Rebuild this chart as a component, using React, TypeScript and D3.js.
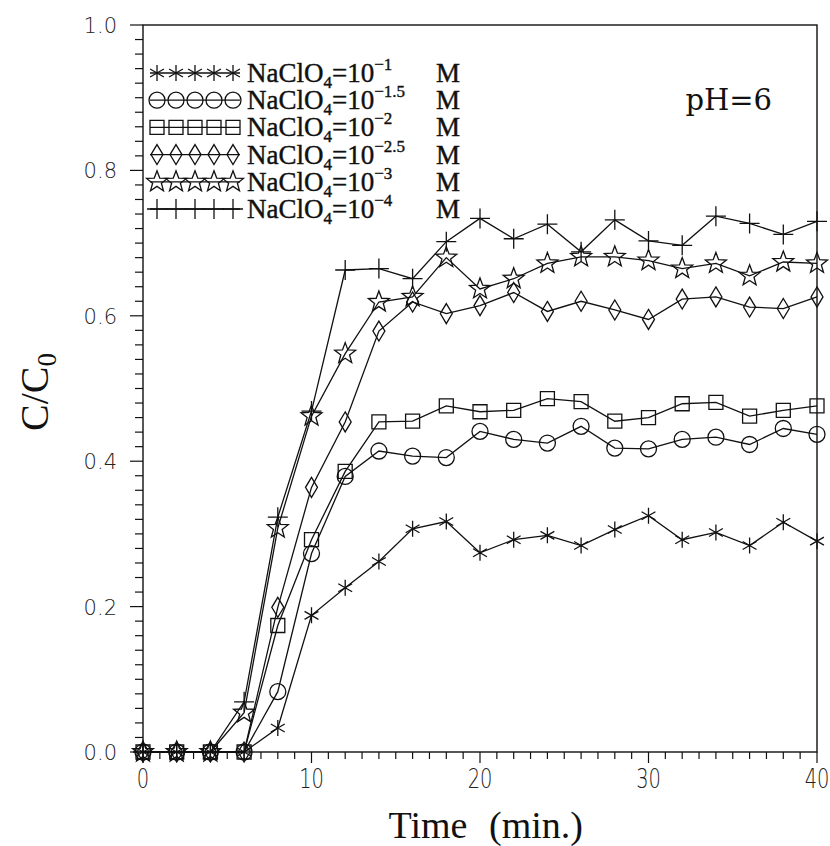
import React from 'react';
import * as d3 from 'd3';

const time = [0, 2, 4, 6, 8, 10, 12, 14, 16, 18, 20, 22, 24, 26, 28, 30, 32, 34, 36, 38, 40];

const nacl1 = [0, 0, 0, 0, 0.033, 0.188, 0.226, 0.262, 0.307, 0.317, 0.274, 0.292, 0.298, 0.284, 0.306, 0.325, 0.292, 0.302, 0.284, 0.316, 0.29];
const nacl15 = [0, 0, 0, 0, 0.083, 0.273, 0.379, 0.414, 0.407, 0.405, 0.441, 0.43, 0.425, 0.448, 0.418, 0.417, 0.43, 0.433, 0.423, 0.445, 0.437];
const nacl2 = [0, 0, 0, 0, 0.174, 0.292, 0.386, 0.454, 0.455, 0.476, 0.468, 0.47, 0.486, 0.482, 0.455, 0.46, 0.479, 0.481, 0.462, 0.47, 0.476];
const nacl25 = [0, 0, 0, 0, 0.199, 0.364, 0.454, 0.579, 0.619, 0.603, 0.614, 0.632, 0.606, 0.62, 0.608, 0.595, 0.623, 0.626, 0.612, 0.61, 0.626];
const nacl3 = [0, 0, 0, 0.054, 0.308, 0.462, 0.548, 0.619, 0.626, 0.68, 0.637, 0.651, 0.672, 0.681, 0.681, 0.676, 0.665, 0.672, 0.655, 0.674, 0.672];
const nacl4 = [0, 0, 0, 0.069, 0.323, 0.469, 0.663, 0.665, 0.651, 0.702, 0.734, 0.706, 0.726, 0.688, 0.732, 0.703, 0.697, 0.737, 0.727, 0.712, 0.73];

const exponents = ['\u22121', '\u22121.5', '\u22122', '\u22122.5', '\u22123', '\u22124'];
const markers = ['asterisk', 'circle', 'square', 'diamond', 'star', 'plus'];
const seriesValues = [nacl1, nacl15, nacl2, nacl25, nacl3, nacl4];

const xTicks = [0, 10, 20, 30, 40];
const yTicks = [0, 0.2, 0.4, 0.6, 0.8, 1.0];

// marker outline centred on 0,0
function markerPath(type) {
  const p = d3.path();
  if (type === 'asterisk') {
    const r = 8;
    [90, 30, 150].forEach((a) => {
      const t = (a * Math.PI) / 180;
      p.moveTo(-r * Math.cos(t), -r * Math.sin(t));
      p.lineTo(r * Math.cos(t), r * Math.sin(t));
    });
  } else if (type === 'circle') {
    p.moveTo(8, 0);
    p.arc(0, 0, 8, 0, Math.PI * 2);
  } else if (type === 'square') {
    p.rect(-7, -7, 14, 14);
  } else if (type === 'diamond') {
    p.moveTo(0, -10);
    p.lineTo(6, 0);
    p.lineTo(0, 10);
    p.lineTo(-6, 0);
    p.closePath();
  } else if (type === 'star') {
    for (let i = 0; i < 10; i++) {
      const r = i % 2 === 0 ? 11 : 4.6;
      const t = -Math.PI / 2 + (i * Math.PI) / 5;
      if (i === 0) p.moveTo(r * Math.cos(t), r * Math.sin(t));
      else p.lineTo(r * Math.cos(t), r * Math.sin(t));
    }
    p.closePath();
  } else {
    p.moveTo(-10, 0);
    p.lineTo(10, 0);
    p.moveTo(0, -10);
    p.lineTo(0, 10);
  }
  return p.toString();
}

export default function App() {
  const width = 830;
  const height = 846;
  const left = 143, right = 817, top = 25, bottom = 752;

  const xScale = d3.scaleLinear().domain([0, 40]).range([left, right]);
  const yScale = d3.scaleLinear().domain([0, 1]).range([bottom, top]);

  const line = d3.line().x((d) => xScale(d[0])).y((d) => yScale(d[1]));

  const xMinor = d3.range(0, 41, 1);
  const yMinor = d3.range(0, 51, 1).map((i) => i * 0.02);

  const legendY = 73;
  const legendStep = 27.2;
  const serif = "'Liberation Serif', serif";

  return (
    <svg width={width} height={height} style={{ position: 'absolute', left: 0, top: 0, background: '#fff' }}>
      <rect x={left} y={top} width={right - left} height={bottom - top} fill="none" stroke="#111" strokeWidth={1.4} />

      {xMinor.map((t) => (
        <line key={'xm' + t} x1={xScale(t)} x2={xScale(t)} y1={bottom} y2={bottom + (t % 10 === 0 ? 11 : 7)} stroke="#111" strokeWidth={1.2} />
      ))}
      {yMinor.map((v, i) => (
        <line key={'ym' + i} x1={left} x2={left - (i % 10 === 0 ? 13 : 8)} y1={yScale(v)} y2={yScale(v)} stroke="#111" strokeWidth={1.2} />
      ))}

      {xTicks.map((t) => (
        <text key={'xl' + t} transform={`translate(${xScale(t)},788) scale(0.72,1)`} textAnchor="middle"
          fontFamily="'DejaVu Sans', sans-serif" fontWeight={200} fontSize={27} fill="#222">{t}</text>
      ))}
      {yTicks.map((v) => (
        <text key={'yl' + v} x={117} y={yScale(v) + 8} textAnchor="end"
          fontFamily="'DejaVu Sans', sans-serif" fontWeight={200} fontSize={21} fill="#222">{v.toFixed(1)}</text>
      ))}

      <text x={428} y={838} textAnchor="middle" fontFamily={serif} fontSize={38} fill="#111">Time</text>
      <text x={536} y={838} textAnchor="middle" fontFamily={serif} fontSize={38} fill="#111">(min.)</text>
      <text transform="translate(48,392) rotate(-90)" textAnchor="middle" fontFamily={serif} fontSize={40} fill="#111">
        C/C<tspan fontSize={27} dy={8}>0</tspan>
      </text>

      <text x={772} y={110} textAnchor="end" fontFamily="'DejaVu Serif', serif" fontSize={29} fill="#111">pH=6</text>

      {seriesValues.map((vals, s) => {
        const pts = time.map((t, i) => [t, vals[i]]);
        const d = markerPath(markers[s]);
        return (
          <g key={'s' + s}>
            <path d={line(pts)} fill="none" stroke="#111" strokeWidth={1.3} />
            {pts.map((p, i) => (
              <path key={i} d={d} transform={`translate(${xScale(p[0])},${yScale(p[1])})`} fill="none" stroke="#111" strokeWidth={1.3} />
            ))}
          </g>
        );
      })}

      {exponents.map((e, s) => {
        const cy = legendY + s * legendStep;
        const d = markerPath(markers[s]);
        const xs = [157, 176, 195, 214, 233];
        return (
          <g key={'lg' + s}>
            <line x1={150} x2={240} y1={cy} y2={cy} stroke="#111" strokeWidth={1.3} />
            {xs.map((x, i) => (
              <path key={i} d={d} transform={`translate(${x},${cy})`} fill="none" stroke="#111" strokeWidth={1.3} />
            ))}
            <text x={247} y={cy + 9} fontFamily={serif} fontSize={27} fill="#111" stroke="#111" strokeWidth={0.4}>
              NaClO<tspan fontSize={17} dy={6}>4</tspan><tspan dy={-6}>=10</tspan><tspan fontSize={17} dy={-12}>{e}</tspan>
            </text>
            <text x={436} y={cy + 9} fontFamily={serif} fontSize={27} fill="#111" stroke="#111" strokeWidth={0.4}>M</text>
          </g>
        );
      })}
    </svg>
  );
}
